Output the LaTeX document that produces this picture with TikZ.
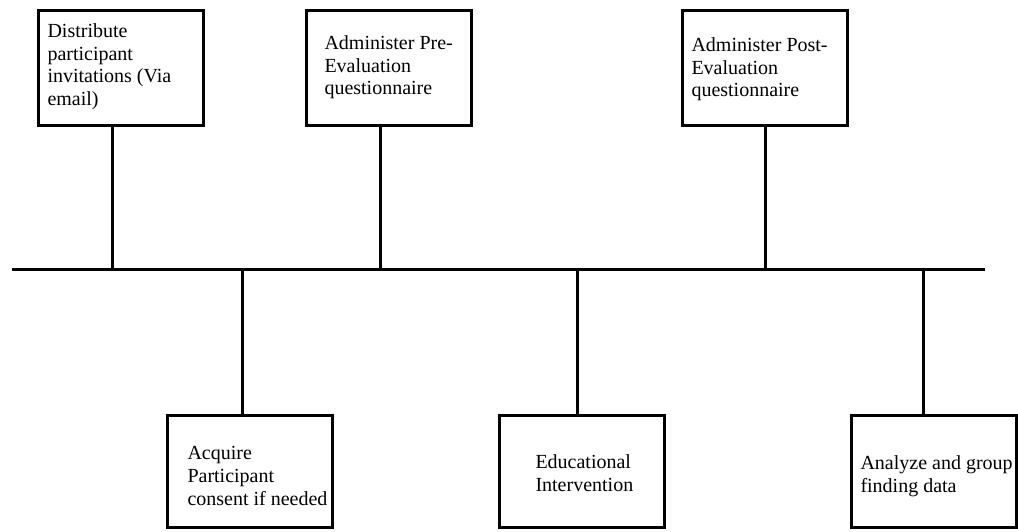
\documentclass[tikz,border=0pt]{standalone}
\usepackage{fontspec}
\setmainfont{Liberation Serif}
\usetikzlibrary{positioning}

\begin{document}
\begin{tikzpicture}[x=0.5pt,y=-0.5pt,line width=1.5pt]
	\tikzstyle{stepbox} = [draw,minimum width=82.5pt,minimum height=57.5pt,inner sep=0pt]
	\tikzstyle{lowbox} = [stepbox,minimum height=56pt]
	\tikzstyle{steptext} = [anchor=north west,align=left,inner sep=0pt,font=\fontsize{10}{11.4}\selectfont]
	\useasboundingbox (0,0) rectangle (1018,531);
	% Timeline
	\coordinate (tl_start) at (12,269);
	\coordinate (tl_end) at (985,269);
	\draw (tl_start) -- (tl_end);
	% Step 1
	\node[stepbox] (invite) at (121,68) {};
	\node[steptext] (invite_t) at (46,22) {Distribute\\participant\\invitations (Via\\email)};
	\coordinate (t1) at (112,269);
	\draw (t1) -- (t1 |- invite.south);
	% Step 2
	\node[lowbox] (consent) at (249.5,471.5) {};
	\node[steptext] (consent_t) at (186,445) {Acquire\\Participant\\consent if needed};
	\coordinate (t2) at (242,269);
	\draw (t2) -- (t2 |- consent.north);
	% Step 3
	\node[stepbox] (preeval) at (388.5,68) {};
	\node[steptext] (preeval_t) at (323,34) {Administer Pre-\\Evaluation\\questionnaire};
	\coordinate (t3) at (380,269);
	\draw (t3) -- (t3 |- preeval.south);
	% Step 4
	\node[lowbox] (educate) at (582,471.5) {};
	\node[steptext] (educate_t) at (534,453) {Educational\\Intervention};
	\coordinate (t4) at (577,269);
	\draw (t4) -- (t4 |- educate.north);
	% Step 5
	\node[stepbox] (posteval) at (765,68) {};
	\node[steptext] (posteval_t) at (690,36) {Administer Post-\\Evaluation\\questionnaire};
	\coordinate (t5) at (765,269);
	\draw (t5) -- (t5 |- posteval.south);
	% Step 6
	\node[lowbox] (analyze) at (933.5,471.5) {};
	\node[steptext] (analyze_t) at (859,454) {Analyze and group\\finding data};
	\coordinate (t6) at (923,269);
	\draw (t6) -- (t6 |- analyze.north);
\end{tikzpicture}
\end{document}
